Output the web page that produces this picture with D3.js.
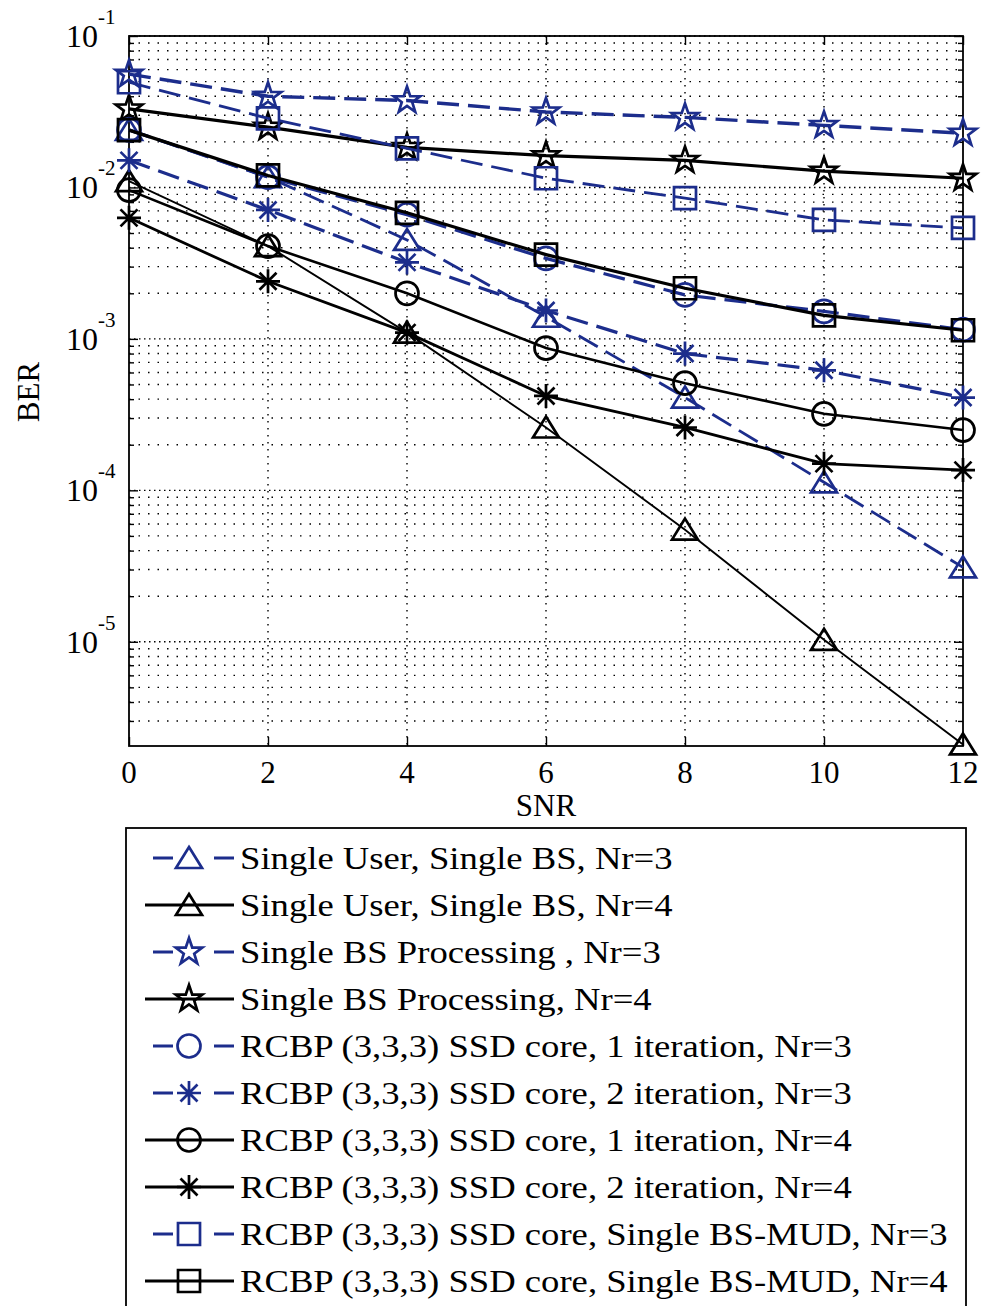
<!DOCTYPE html>
<html>
<head>
<meta charset="utf-8">
<script src="https://cdn.jsdelivr.net/npm/d3@7"></script>
<style>
body { margin: 0; background: #fff; }
text { font-family: "Liberation Serif", "Times New Roman", serif; fill: #000; }
</style>
</head>
<body>
<svg id="chart" width="984" height="1306"></svg>
<script>
// SNR points on the x axis
var snr = [0, 2, 4, 6, 8, 10, 12];

// BER values, one array per curve
var suNr3 = [0.024, 0.0117, 0.0045, 0.0014, 0.00041, 0.000113, 0.000031];
var suNr4 = [0.011, 0.0041, 0.0011, 0.00026, 0.000055, 0.0000103, 0.0000021];
var sbsNr3 = [0.056, 0.040, 0.0375, 0.0315, 0.029, 0.0257, 0.0228];
var sbsNr4 = [0.033, 0.025, 0.0184, 0.0162, 0.0151, 0.0128, 0.0115];
var it1Nr3 = [0.024, 0.0117, 0.0066, 0.0034, 0.00195, 0.00152, 0.00115];
var it2Nr3 = [0.0151, 0.0071, 0.0032, 0.00154, 0.0008, 0.00062, 0.00041];
var it1Nr4 = [0.0096, 0.0041, 0.002, 0.00087, 0.00051, 0.00032, 0.00025];
var it2Nr4 = [0.0063, 0.0024, 0.0011, 0.00042, 0.00026, 0.00015, 0.000136];
var mudNr3 = [0.0495, 0.0286, 0.0181, 0.0115, 0.0085, 0.0061, 0.0054];
var mudNr4 = [0.0239, 0.012, 0.0068, 0.0036, 0.00216, 0.00143, 0.00114];

var legendLabels = [
    "Single User, Single BS, Nr=3",
    "Single User, Single BS, Nr=4",
    "Single BS Processing , Nr=3",
    "Single BS Processing, Nr=4",
    "RCBP (3,3,3) SSD core, 1 iteration, Nr=3",
    "RCBP (3,3,3) SSD core, 2 iteration, Nr=3",
    "RCBP (3,3,3) SSD core, 1 iteration, Nr=4",
    "RCBP (3,3,3) SSD core, 2 iteration, Nr=4",
    "RCBP (3,3,3) SSD core, Single BS-MUD, Nr=3",
    "RCBP (3,3,3) SSD core, Single BS-MUD, Nr=4"
];

var xTicks = [0, 2, 4, 6, 8, 10, 12];
var yExponents = [-1, -2, -3, -4, -5];

var blue = "#1c2d8c";

// style of each curve, in legend order
var curves = [
    {values: suNr3, color: blue, dashed: true, marker: "tri", lw: 2.8},
    {values: suNr4, color: "#000", dashed: false, marker: "tri", lw: 1.9},
    {values: sbsNr3, color: blue, dashed: true, marker: "star", lw: 3.4},
    {values: sbsNr4, color: "#000", dashed: false, marker: "star", lw: 3.2},
    {values: it1Nr3, color: blue, dashed: true, marker: "circle", lw: 3.2},
    {values: it2Nr3, color: blue, dashed: true, marker: "ast", lw: 3.2},
    {values: it1Nr4, color: "#000", dashed: false, marker: "circle", lw: 2.6},
    {values: it2Nr4, color: "#000", dashed: false, marker: "ast", lw: 2.8},
    {values: mudNr3, color: blue, dashed: true, marker: "square", lw: 2.8},
    {values: mudNr4, color: "#000", dashed: false, marker: "square", lw: 3.2}
];

//marker shapes centred on 0,0
function markerPath(kind){
    var p = d3.path();
    if (kind == "tri"){
        p.moveTo(0, -11); p.lineTo(13, 10); p.lineTo(-13, 10); p.closePath();
    } else if (kind == "square"){
        p.rect(-11, -11, 22, 22);
    } else if (kind == "circle"){
        p.arc(0, 0, 11.5, 0, 2 * Math.PI);
    } else if (kind == "star"){
        for (var i = 0; i < 10; i++){
            var r = (i % 2 == 0) ? 14 : 5.5;
            var a = -Math.PI / 2 + i * Math.PI / 5;
            if (i == 0) p.moveTo(r * Math.cos(a), r * Math.sin(a));
            else p.lineTo(r * Math.cos(a), r * Math.sin(a));
        }
        p.closePath();
    } else if (kind == "ast"){
        p.moveTo(-12, 0); p.lineTo(12, 0);
        p.moveTo(0, -12); p.lineTo(0, 12);
        p.moveTo(-8.5, -8.5); p.lineTo(8.5, 8.5);
        p.moveTo(-8.5, 8.5); p.lineTo(8.5, -8.5);
    }
    return p.toString();
}

var svg = d3.select("#chart");
var pLeft = 129, pRight = 963, pTop = 36, pBottom = 746;

var xScale = d3.scaleLinear().domain([0, 12]).range([pLeft, pRight]);
var yScale = d3.scaleLog().domain([2.05e-6, 0.1]).range([pBottom, pTop]);

//minor values for the log grid
var yMinor = [];
for (var k = -6; k <= -2; k++){
    for (var m = 2; m <= 9; m++){
        var v = m * Math.pow(10, k);
        if (v >= 2.05e-6 && v <= 0.1) yMinor.push(v);
    }
}
var yMajor = yExponents.map(function(e){ return Math.pow(10, e); });

var grid = svg.append("g").attr("stroke", "#000").attr("stroke-width", 1.4).attr("fill", "none");

grid.selectAll(".minor").data(yMinor).enter().append("line")
    .attr("x1", pLeft).attr("x2", pRight)
    .attr("y1", function(d){ return yScale(d); })
    .attr("y2", function(d){ return yScale(d); })
    .attr("stroke-dasharray", "1.5,8");

grid.selectAll(".major").data(yMajor).enter().append("line")
    .attr("x1", pLeft).attr("x2", pRight)
    .attr("y1", function(d){ return yScale(d); })
    .attr("y2", function(d){ return yScale(d); })
    .attr("stroke-dasharray", "1.5,3.5");

grid.selectAll(".vgrid").data(xTicks.slice(1, -1)).enter().append("line")
    .attr("x1", function(d){ return xScale(d); })
    .attr("x2", function(d){ return xScale(d); })
    .attr("y1", pTop).attr("y2", pBottom)
    .attr("stroke-dasharray", "1.5,5.5");

//Axes with inner ticks
var axisG = svg.append("g");
axisG.append("g").attr("transform", "translate(0," + pBottom + ")")
    .call(d3.axisBottom(xScale).tickValues(xTicks).tickSizeInner(-9).tickSizeOuter(0).tickFormat(""));
axisG.append("g").attr("transform", "translate(0," + pTop + ")")
    .call(d3.axisTop(xScale).tickValues(xTicks).tickSizeInner(-9).tickSizeOuter(0).tickFormat(""));
axisG.append("g").attr("transform", "translate(" + pLeft + ",0)")
    .call(d3.axisLeft(yScale).tickValues(yMajor).tickSizeInner(-9).tickSizeOuter(0).tickFormat(""));
axisG.append("g").attr("transform", "translate(" + pRight + ",0)")
    .call(d3.axisRight(yScale).tickValues(yMajor).tickSizeInner(-9).tickSizeOuter(0).tickFormat(""));
axisG.append("g").attr("transform", "translate(" + pLeft + ",0)")
    .call(d3.axisLeft(yScale).tickValues(yMinor).tickSizeInner(-5).tickSizeOuter(0).tickFormat(""));
axisG.append("g").attr("transform", "translate(" + pRight + ",0)")
    .call(d3.axisRight(yScale).tickValues(yMinor).tickSizeInner(-5).tickSizeOuter(0).tickFormat(""));
axisG.selectAll("path.domain").remove();
axisG.selectAll("line").attr("stroke", "#000").attr("stroke-width", 1.4);

svg.append("rect").attr("x", pLeft).attr("y", pTop)
    .attr("width", pRight - pLeft).attr("height", pBottom - pTop)
    .attr("fill", "none").attr("stroke", "#000").attr("stroke-width", 1.8);

//tick labels
svg.selectAll(".xlab").data(xTicks).enter().append("text")
    .attr("x", function(d){ return xScale(d); })
    .attr("y", pBottom + 37)
    .attr("text-anchor", "middle")
    .attr("font-size", 31)
    .text(function(d){ return d; });

yExponents.forEach(function(e){
    var yy = yScale(Math.pow(10, e));
    svg.append("text").attr("x", 98).attr("y", yy + 11)
        .attr("text-anchor", "end").attr("font-size", 32).text("10");
    svg.append("text").attr("x", 98).attr("y", yy - 12)
        .attr("font-size", 21).text(e);
});

svg.append("text").attr("x", (pLeft + pRight) / 2).attr("y", 816)
    .attr("text-anchor", "middle").attr("font-size", 31).text("SNR");
svg.append("text").attr("transform", "translate(39,392) rotate(-90)")
    .attr("text-anchor", "middle").attr("font-size", 31).text("BER");

//curves
var lineGen = d3.line()
    .x(function(d){ return xScale(d.x); })
    .y(function(d){ return yScale(d.y); });

var plot = svg.append("g");
curves.forEach(function(c){
    var pts = snr.map(function(x, i){ return {x: x, y: c.values[i]}; });
    plot.append("path").datum(pts)
        .attr("d", lineGen)
        .attr("fill", "none")
        .attr("stroke", c.color)
        .attr("stroke-width", c.lw)
        .attr("stroke-dasharray", c.dashed ? "22,9" : null);
    plot.selectAll(null).data(pts).enter().append("path")
        .attr("transform", function(d){ return "translate(" + xScale(d.x) + "," + yScale(d.y) + ")"; })
        .attr("d", markerPath(c.marker))
        .attr("fill", "none")
        .attr("stroke", c.color)
        .attr("stroke-width", 2.7);
});

//legend
var legend = svg.append("g");
legend.append("rect").attr("x", 126).attr("y", 828)
    .attr("width", 840).attr("height", 520)
    .attr("fill", "#fff").attr("stroke", "#000").attr("stroke-width", 1.8);

var rowY = d3.scaleLinear().domain([0, 9]).range([858, 1281]);

var labelG = legend.append("g");
curves.forEach(function(c, i){
    var yy = rowY(i);
    if (c.dashed){
        legend.append("line").attr("x1", 153).attr("x2", 234).attr("y1", yy).attr("y2", yy)
            .attr("stroke", c.color).attr("stroke-width", 2.8).attr("stroke-dasharray", "20,41,20");
    } else {
        legend.append("line").attr("x1", 145).attr("x2", 234).attr("y1", yy).attr("y2", yy)
            .attr("stroke", c.color).attr("stroke-width", 2.8);
    }
    legend.append("path").attr("transform", "translate(189," + yy + ")")
        .attr("d", markerPath(c.marker)).attr("fill", "none")
        .attr("stroke", c.color).attr("stroke-width", 2.7);
    labelG.append("text").attr("x", 0).attr("y", yy + 11)
        .attr("font-size", 31).text(legendLabels[i]);
});

//stretch labels so the longest one ends where the picture's does
var longest = d3.max(labelG.selectAll("text").nodes(), function(n){ return n.getComputedTextLength(); });
labelG.attr("transform", "translate(240,0) scale(" + (708 / longest) + ",1)");
</script>
</body>
</html>
